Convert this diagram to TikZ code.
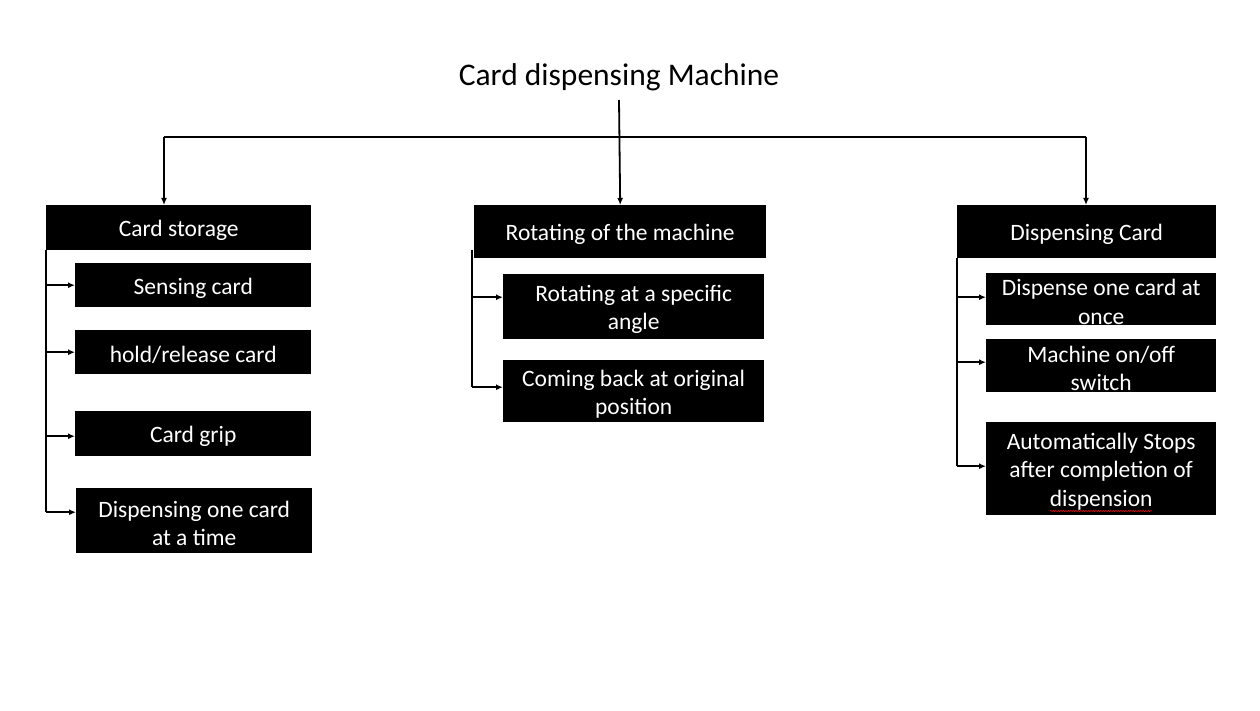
\documentclass[tikz,border=0pt]{standalone}
\usepackage{fontspec}
\setmainfont{Carlito}
\usetikzlibrary{arrows.meta,decorations.pathmorphing}
\newcommand\boxfont{\fontsize{23.5}{28.5}\selectfont}
\newcommand\titlefont{\fontsize{31.5}{36}\selectfont}
\newcommand\strutup{\rule{0pt}{22pt}}
\tikzset{
  box/.style={fill=black, text=white, inner sep=0pt, anchor=north west, align=center, font=\boxfont},
  conn/.style={line width=1.8pt, black},
  arr/.style={conn, -{Latex[length=7pt,width=6pt]}}
}
\begin{document}
\begin{tikzpicture}[x=1pt,y=-1pt]
\useasboundingbox[fill=white] (0,0) rectangle (1260,711);
\node[font=\titlefont] (title) at (619,77) {Card dispensing Machine};

% level 1
\node[box, minimum width=265pt, minimum height=45pt] (cs) at (46,205) {\strutup Card storage};
\node[box, minimum width=292pt, minimum height=53pt] (rot) at (474,205) {\strutup Rotating of the machine};
\node[box, minimum width=259pt, minimum height=53pt] (dc) at (957,205) {\strutup Dispensing Card};

% left children
\node[box, minimum width=236pt, minimum height=44pt] (l1) at (75,263) {\strutup Sensing card};
\node[box, minimum width=236pt, minimum height=44pt] (l2) at (75,330) {\strutup hold/release card};
\node[box, minimum width=236pt, minimum height=45pt] (l3) at (75,411) {\strutup Card grip};
\node[box, minimum width=236pt, minimum height=65pt] (l4) at (76,488) {\strutup Dispensing one card\\at a time};

% middle children
\node[box, minimum width=261pt, minimum height=65pt] (m1) at (503,274) {\strutup Rotating at a specific\\angle};
\node[box, minimum width=261pt, minimum height=62pt] (m2) at (503,360) {\strutup Coming back at original\\position};

% right children
\node[box, minimum width=230pt, minimum height=52pt] (r1) at (986,273) {\strutup Dispense one card at\\once};
\node[box, minimum width=230pt, minimum height=53pt] (r2) at (986,339) {\strutup Machine on/off\\switch};
\node[box, minimum width=230pt, minimum height=93pt] (r3) at (986,422) {\strutup Automatically Stops\\after completion of\\dispension};
\draw[red, line width=0.5pt, decorate, decoration={snake, amplitude=0.7pt, segment length=2.5pt}] (1050,511) -- (1152,511);

% top connectors
\coordinate (top) at (619,100);
\coordinate (hl) at (164,137);
\coordinate (hr) at (1086,137);
\draw[conn] (hl) -- (hr);
\draw[arr] (top) -- (rot.north);
\draw[arr] (hl) -- (hl |- cs.north);
\draw[arr] (hr) -- (hr |- dc.north);

% left branch
\draw[conn] (cs.south west) -- (cs.south west |- 0,512);
\draw[arr] (cs.south west |- l1.west) -- (l1.west);
\draw[arr] (cs.south west |- l2.west) -- (l2.west);
\draw[arr] ([yshift=-2.5pt]cs.south west |- l3.west) -- ([yshift=-2.5pt]l3.west);
\draw[arr] ([yshift=8.5pt]cs.south west |- l4.west) -- ([yshift=8.5pt]l4.west);

% middle branch
\coordinate (mv) at (472,250);
\draw[conn] (mv) -- (mv |- 0,387);
\draw[arr] ([yshift=9.5pt]mv |- m1.west) -- ([yshift=9.5pt]m1.west);
\draw[arr] ([yshift=4pt]mv |- m2.west) -- ([yshift=4pt]m2.west);

% right branch
\draw[conn] (dc.south west) -- (dc.south west |- 0,466);
\draw[arr] ([yshift=2pt]dc.south west |- r1.west) -- ([yshift=2pt]r1.west);
\draw[arr] ([yshift=3.5pt]dc.south west |- r2.west) -- ([yshift=3.5pt]r2.west);
\draw[arr] ([yshift=2.5pt]dc.south west |- r3.west) -- ([yshift=2.5pt]r3.west);
\end{tikzpicture}
\end{document}
